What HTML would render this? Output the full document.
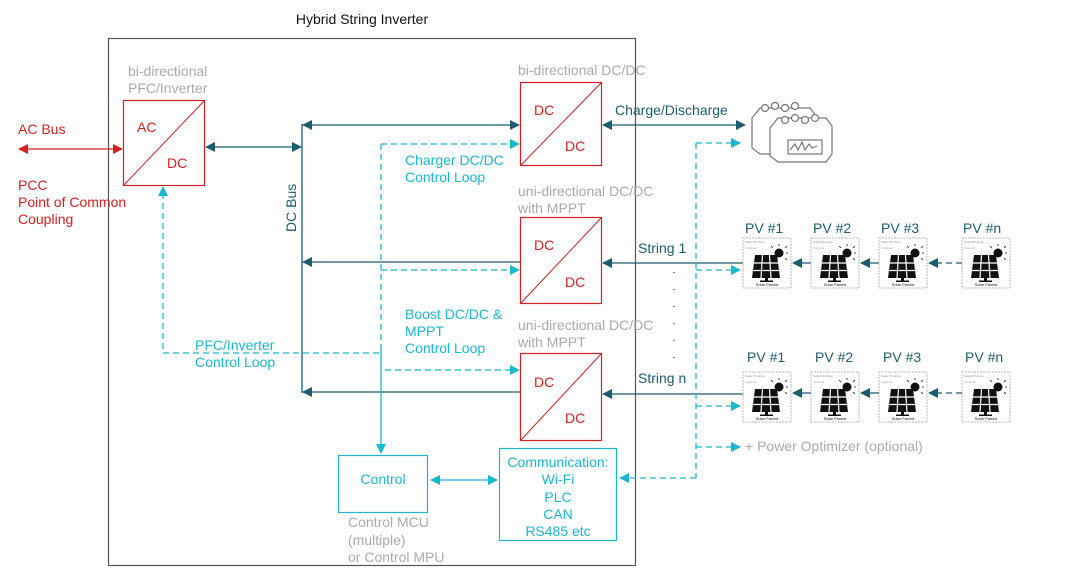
<!DOCTYPE html>
<html><head><meta charset="utf-8"><style>
html,body{margin:0;padding:0;background:#fff;}
svg{display:block;font-family:"Liberation Sans",Arial,sans-serif;}
</style></head><body>
<svg width="1080" height="582" viewBox="0 0 1080 582" xmlns="http://www.w3.org/2000/svg">
<defs>
<marker id="t" viewBox="0 0 10 10" refX="9" refY="5" markerWidth="10" markerHeight="10" markerUnits="userSpaceOnUse" orient="auto-start-reverse"><path d="M0,0L10,5L0,10z" fill="#1d5b6e"/></marker>
<marker id="r" viewBox="0 0 10 10" refX="9" refY="5" markerWidth="10" markerHeight="10" markerUnits="userSpaceOnUse" orient="auto-start-reverse"><path d="M0,0L10,5L0,10z" fill="#d42020"/></marker>
<marker id="c" viewBox="0 0 10 10" refX="9" refY="5" markerWidth="10" markerHeight="10" markerUnits="userSpaceOnUse" orient="auto-start-reverse"><path d="M0,0L10,5L0,10z" fill="#1ab8cf"/></marker>
<g id="pv">
<rect x="0" y="0" width="48" height="50" fill="#fff" stroke="#bbb" stroke-dasharray="2,1"/>
<text x="2" y="5" font-size="3" fill="#888">Solar PV Array</text>
<text x="2" y="11" font-size="3" fill="#aaa">Optional</text>
<circle cx="36" cy="15" r="4.5" fill="#111"/>
<path d="M36,8v-2M42,10l2,-2M43,15h2M30,10l-2,-2M42,20l2,2" stroke="#111" stroke-width="0.8"/>
<path d="M12,17h22l3,23h-28z" fill="#111"/>
<path d="M19.5,17l-1.5,23M26.5,17l1.5,23M11,25h25M10,32.5h27" stroke="#fff" stroke-width="1.2"/>
<rect x="22" y="40" width="3" height="3" fill="#111"/><rect x="17" y="42.5" width="13" height="1.5" fill="#111"/>
<text x="24" y="48" font-size="4" text-anchor="middle" fill="#111">Solar Panels</text>
</g>
</defs>

<text x="362" y="24" font-size="14" text-anchor="middle" fill="#111">Hybrid String Inverter</text>
<rect x="108.5" y="38.5" width="527" height="527" fill="none" stroke="#555" stroke-width="1.2"/>

<g font-size="14">
<text x="18" y="134" fill="#d42020">AC Bus</text>
<text x="18" y="190" fill="#d42020">PCC</text>
<text x="18" y="207" fill="#d42020">Point of Common</text>
<text x="18" y="224" fill="#d42020">Coupling</text>
</g>
<line x1="19" y1="149" x2="122" y2="149" stroke="#d42020" stroke-width="1.3" marker-start="url(#r)" marker-end="url(#r)"/>

<text x="128" y="76" font-size="14" fill="#aaa">bi-directional</text>
<text x="128" y="93" font-size="14" fill="#aaa">PFC/Inverter</text>
<rect x="123.5" y="100.5" width="81" height="85" fill="#fff" stroke="#d42020" stroke-width="1.2"/>
<line x1="123.5" y1="185.5" x2="204.5" y2="100.5" stroke="#d42020"/>
<text x="137" y="132" font-size="14" fill="#d42020">AC</text>
<text x="167" y="168" font-size="14" fill="#d42020">DC</text>

<line x1="206" y1="147" x2="301" y2="147" stroke="#1d5b6e" stroke-width="1.3" marker-start="url(#t)" marker-end="url(#t)"/>
<line x1="302" y1="124" x2="302" y2="393" stroke="#1d5b6e" stroke-width="1.3"/>
<text transform="translate(296,232) rotate(-90)" font-size="14" fill="#1d5b6e">DC Bus</text>

<text x="518" y="75" font-size="14" fill="#aaa">bi-directional DC/DC</text>
<rect x="520.5" y="82.5" width="81" height="83" fill="#fff" stroke="#d42020" stroke-width="1.2"/>
<line x1="520.5" y1="165.5" x2="601.5" y2="82.5" stroke="#d42020"/>
<text x="534" y="115" font-size="14" fill="#d42020">DC</text>
<text x="565" y="151" font-size="14" fill="#d42020">DC</text>

<text x="518" y="196" font-size="14" fill="#aaa">uni-directional DC/DC</text>
<text x="518" y="213" font-size="14" fill="#aaa">with MPPT</text>
<rect x="520.5" y="217.5" width="81" height="86" fill="#fff" stroke="#d42020" stroke-width="1.2"/>
<line x1="520.5" y1="303.5" x2="601.5" y2="217.5" stroke="#d42020"/>
<text x="534" y="250" font-size="14" fill="#d42020">DC</text>
<text x="565" y="287" font-size="14" fill="#d42020">DC</text>

<text x="518" y="330" font-size="14" fill="#aaa">uni-directional DC/DC</text>
<text x="518" y="347" font-size="14" fill="#aaa">with MPPT</text>
<rect x="520.5" y="353.5" width="81" height="87" fill="#fff" stroke="#d42020" stroke-width="1.2"/>
<line x1="520.5" y1="440.5" x2="601.5" y2="353.5" stroke="#d42020"/>
<text x="534" y="387" font-size="14" fill="#d42020">DC</text>
<text x="565" y="423" font-size="14" fill="#d42020">DC</text>

<line x1="303" y1="125" x2="519" y2="125" stroke="#1d5b6e" stroke-width="1.3" marker-start="url(#t)" marker-end="url(#t)"/>
<line x1="520" y1="262" x2="303" y2="262" stroke="#1d5b6e" stroke-width="1.3" marker-end="url(#t)"/>
<line x1="520" y1="392" x2="303" y2="392" stroke="#1d5b6e" stroke-width="1.3" marker-end="url(#t)"/>

<line x1="603" y1="125" x2="745" y2="125" stroke="#1d5b6e" stroke-width="1.3" marker-start="url(#t)" marker-end="url(#t)"/>
<text x="615" y="115" font-size="14" fill="#1d5b6e">Charge/Discharge</text>
<line x1="743" y1="263" x2="603" y2="263" stroke="#1d5b6e" stroke-width="1.3" marker-end="url(#t)"/>
<text x="638" y="253" font-size="14" fill="#1d5b6e">String 1</text>
<line x1="743" y1="394" x2="603" y2="394" stroke="#1d5b6e" stroke-width="1.3" marker-end="url(#t)"/>
<text x="638" y="383" font-size="14" fill="#1d5b6e">String n</text>
<line x1="674" y1="272" x2="674" y2="360" stroke="#1d5b6e" stroke-width="1.5" stroke-dasharray="1,16"/>

<g fill="#fff" stroke="#777" stroke-width="1.2">
<path d="M752,118l8,-10h50l6,8v30l-6,8h-50l-8,-6z"/>
<circle cx="765" cy="108" r="3.5"/><circle cx="775" cy="106" r="3.5"/><circle cx="785" cy="108" r="3.5"/><circle cx="795" cy="106" r="3.5"/>
<path d="M770,128l8,-10h48l6,8v28l-6,8h-48l-8,-6z"/>
<circle cx="785" cy="120" r="3.5"/><circle cx="795" cy="118" r="3.5"/><circle cx="805" cy="120" r="3.5"/><circle cx="815" cy="118" r="3.5"/>
<rect x="788" y="140" width="34" height="14"/>
<path d="M790,150l5,-6l3,6l4,-8l3,8l4,-6l3,4l5,-2" fill="none"/>
</g>

<g stroke="#1ab8cf" stroke-width="1.3" fill="none">
<line x1="381" y1="144" x2="519" y2="144" stroke-dasharray="6,4" marker-end="url(#c)"/>
<line x1="381" y1="144" x2="381" y2="350" stroke-dasharray="6,4"/>
<line x1="381" y1="350" x2="381" y2="453" marker-end="url(#c)"/>
<line x1="381" y1="270" x2="519" y2="270" stroke-dasharray="6,4" marker-end="url(#c)"/>
<line x1="385" y1="370" x2="519" y2="370" stroke-dasharray="6,4" marker-end="url(#c)"/>
<polyline points="379,353 163,353 163,187" stroke-dasharray="6,4" marker-end="url(#c)"/>
<line x1="431" y1="480" x2="497" y2="480" marker-start="url(#c)" marker-end="url(#c)"/>
<line x1="696" y1="143" x2="696" y2="478" stroke-dasharray="6,4"/>
<line x1="696" y1="143" x2="740" y2="143" stroke-dasharray="6,4" marker-end="url(#c)"/>
<line x1="696" y1="270" x2="740" y2="270" stroke-dasharray="6,4" marker-end="url(#c)"/>
<line x1="696" y1="406" x2="740" y2="406" stroke-dasharray="6,4" marker-end="url(#c)"/>
<line x1="696" y1="447" x2="740" y2="447" stroke-dasharray="6,4" marker-end="url(#c)"/>
<line x1="696" y1="478" x2="620" y2="478" stroke-dasharray="6,4" marker-end="url(#c)"/>
</g>
<g font-size="14" fill="#1ab8cf">
<text x="405" y="165">Charger DC/DC</text>
<text x="405" y="182">Control Loop</text>
<text x="405" y="319">Boost DC/DC &amp;</text>
<text x="405" y="336">MPPT</text>
<text x="405" y="353">Control Loop</text>
<text x="195" y="350">PFC/Inverter</text>
<text x="195" y="367">Control Loop</text>
</g>
<text x="745" y="451" font-size="14" fill="#aaa">+ Power Optimizer (optional)</text>

<rect x="338.5" y="455.5" width="89" height="57" fill="#fff" stroke="#1ab8cf" stroke-width="1.2"/>
<text x="383" y="484" font-size="14" text-anchor="middle" fill="#1ab8cf">Control</text>
<g font-size="14" fill="#aaa">
<text x="348" y="527">Control MCU</text>
<text x="348" y="545">(multiple)</text>
<text x="348" y="562">or Control MPU</text>
</g>
<rect x="499.5" y="448.5" width="117" height="92" fill="#fff" stroke="#1ab8cf" stroke-width="1.2"/>
<g font-size="14" text-anchor="middle" fill="#1ab8cf">
<text x="558" y="467">Communication:</text>
<text x="558" y="484">Wi-Fi</text>
<text x="558" y="502">PLC</text>
<text x="558" y="519">CAN</text>
<text x="558" y="536">RS485 etc</text>
</g>

<g font-size="14" fill="#1d5b6e">
<text x="745" y="233">PV #1</text><text x="813" y="233">PV #2</text><text x="881" y="233">PV #3</text><text x="963" y="233">PV #n</text>
<text x="747" y="362">PV #1</text><text x="815" y="362">PV #2</text><text x="883" y="362">PV #3</text><text x="965" y="362">PV #n</text>
</g>
<use href="#pv" x="743" y="238"/><use href="#pv" x="811" y="238"/><use href="#pv" x="879" y="238"/><use href="#pv" x="962" y="238"/>
<use href="#pv" x="743" y="372"/><use href="#pv" x="811" y="372"/><use href="#pv" x="879" y="372"/><use href="#pv" x="962" y="372"/>
<g stroke="#1d5b6e" stroke-width="1.3">
<line x1="811" y1="263" x2="793" y2="263" marker-end="url(#t)"/>
<line x1="879" y1="263" x2="861" y2="263" marker-end="url(#t)"/>
<line x1="962" y1="263" x2="929" y2="263" stroke-dasharray="6,4" marker-end="url(#t)"/>
<line x1="811" y1="393" x2="793" y2="393" marker-end="url(#t)"/>
<line x1="879" y1="393" x2="861" y2="393" marker-end="url(#t)"/>
<line x1="962" y1="393" x2="929" y2="393" stroke-dasharray="6,4" marker-end="url(#t)"/>
</g>
</svg>
</body></html>
